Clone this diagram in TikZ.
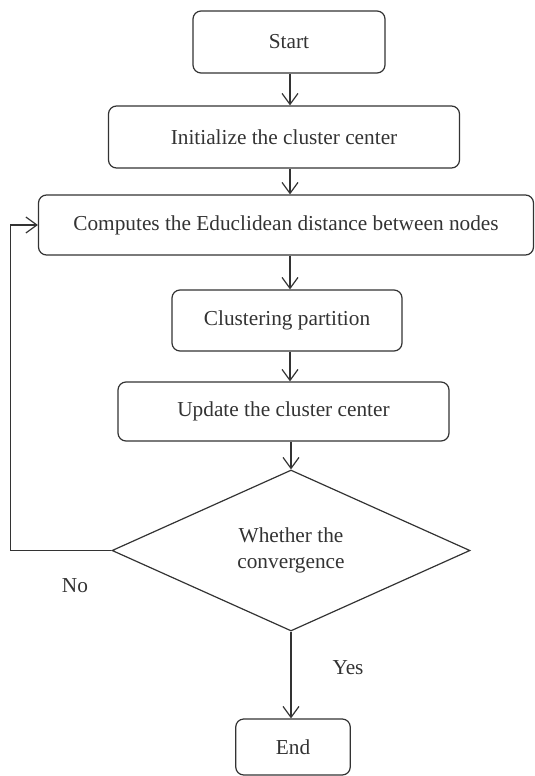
\documentclass[tikz,border=0pt]{standalone}
\usepackage{fontspec}
\setmainfont{Liberation Serif}
\usetikzlibrary{arrows.meta,shapes.geometric}
\definecolor{ink}{HTML}{333333}
\tikzset{
  box/.style={draw=ink, line width=1.2pt, rounded corners=8pt, text=ink, inner sep=0pt, anchor=center},
  decide/.style={draw=ink, line width=1.2pt, diamond, aspect=2.22, text=ink, inner sep=0pt, align=center},
  flow/.style={draw=ink, line width=1.2pt, -{Straight Barb[length=11pt,width=16pt,line width=1.2pt]}},
  lbl/.style={text=ink, inner sep=0pt}
}
\begin{document}
\begin{tikzpicture}[x=1pt,y=-1pt,font=\fontsize{21.3}{26}\selectfont]
\useasboundingbox (0,0) rectangle (535,776);
\node[box, minimum width=192pt, minimum height=62pt] (start) at (289,42) {Start};
\node[box, minimum width=351pt, minimum height=62pt] (init) at (284,137) {Initialize the cluster center};
\node[box, minimum width=495pt, minimum height=60pt] (comp) at (286,225) {Computes the Educlidean distance between nodes};
\node[box, minimum width=230pt, minimum height=61pt] (clus) at (287,320.5) {Clustering partition};
\node[box, minimum width=331pt, minimum height=59pt] (upd) at (283.5,411.5) {Update the cluster center};
\node[decide, minimum width=358pt, minimum height=161pt] (dia) at (291,550.5) {Whether the\\convergence};
\node[box, minimum width=114.5pt, minimum height=56pt] (end) at (293,747) {End};
\node[lbl] (no) at (75,586) {No};
\node[lbl] (yes) at (348,668) {Yes};
\coordinate (fb) at (10.5,550.5);
\draw[flow] (start.south -| 290,0) -- (init.north -| 290,0);
\draw[flow] (init.south -| 290,0) -- (comp.north -| 290,0);
\draw[flow] (comp.south -| 290,0) -- (clus.north -| 290,0);
\draw[flow] (clus.south -| 290,0) -- (upd.north -| 290,0);
\draw[flow] (upd.south -| dia.north) -- (dia.north);
\draw[flow] (dia.south) -- (dia.south |- end.north);
\draw[flow] (dia.west) -- (fb) |- (comp.west);
\end{tikzpicture}
\end{document}
